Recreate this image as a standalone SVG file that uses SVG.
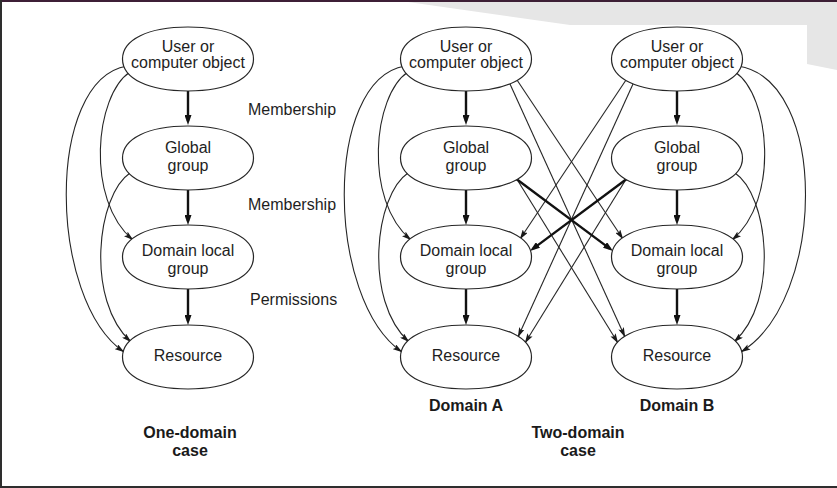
<svg xmlns="http://www.w3.org/2000/svg" xmlns:xlink="http://www.w3.org/1999/xlink" width="837" height="488" viewBox="0 0 837 488">
<style>
.nd{fill:#fff;stroke:#262626;stroke-width:1.2}
.t{font-family:"Liberation Sans",Arial,Helvetica,sans-serif;font-size:16px;fill:#1e1e1e;text-anchor:middle}
.l{font-family:"Liberation Sans",Arial,Helvetica,sans-serif;font-size:16px;fill:#1e1e1e}
.b{font-family:"Liberation Sans",Arial,Helvetica,sans-serif;font-size:16px;font-weight:bold;fill:#1a1a1a;text-anchor:middle}
.thin{fill:none;stroke:#262626;stroke-width:1.1;marker-end:url(#ah)}
.thick{fill:none;stroke:#111;stroke-width:2.4;marker-end:url(#ahb)}
</style>
<defs>
<marker id="ah" markerUnits="userSpaceOnUse" markerWidth="10" markerHeight="6" refX="9.5" refY="3" orient="auto"><path d="M0,0 L10,3 L0,6 L2,3 Z" fill="#1a1a1a"/></marker>
<marker id="ahb" markerUnits="userSpaceOnUse" markerWidth="10" markerHeight="7" refX="6" refY="3.5" orient="auto"><path d="M0,0 L10,3.5 L0,7 Z" fill="#111"/></marker>
<path id="ov" d="M-65.5,0 C-65.5,-19.5 -39.8,-32 0,-32 C39.8,-32 65.5,-19.5 65.5,0 C65.5,19.5 39.8,32 0,32 C-39.8,32 -65.5,19.5 -65.5,0 Z"/>
</defs>
<rect x="0" y="0" width="837" height="488" fill="#fff"/>
<polygon points="408,2 837,2 837,70 807,64 807,25 570,25" fill="#e6e6e6"/>
<rect x="0" y="0" width="837" height="2" fill="#3d1f36"/>
<rect x="0" y="0" width="2" height="488" fill="#2e2e2e"/>
<rect x="0" y="486" width="837" height="2" fill="#2e2e2e"/>

<g id="connectors">
<path class="thick" d="M188,91 L188,121"/>
<path class="thick" d="M188,190 L188,221"/>
<path class="thick" d="M188,289 L188,321"/>
<path class="thick" d="M466,91 L466,121"/>
<path class="thick" d="M466,190 L466,221"/>
<path class="thick" d="M466,289 L466,321"/>
<path class="thick" d="M677,91 L677,121"/>
<path class="thick" d="M677,190 L677,221"/>
<path class="thick" d="M677,289 L677,321"/>
<path class="thin" d="M127,66 C45,80 48,300 124,352"/>
<path class="thin" d="M130,72 C95,95 85,200 133,240"/>
<path class="thin" d="M130,173 C97,195 85,300 131,342"/>
<path class="thin" d="M405,66 C323,80 326,300 402,352"/>
<path class="thin" d="M408,72 C373,95 363,200 411,240"/>
<path class="thin" d="M408,173 C375,195 363,300 409,342"/>
<path class="thin" d="M738,66 C829,80 826,300 741,352"/>
<path class="thin" d="M735,72 C770,95 780,200 732,240"/>
<path class="thin" d="M735,173 C768,195 780,300 734,342"/>
<path class="thin" d="M517,80 L623,239"/>
<path class="thin" d="M510,84 L625,337"/>
<path class="thin" d="M518,181 L618,343"/>
<path class="thin" d="M626,80 L520,239"/>
<path class="thin" d="M633,84 L518,337"/>
<path class="thin" d="M625,181 L525,343"/>
<path class="thick" d="M515,178 L609.8,248.6"/>
<path class="thick" d="M628,178 L533.2,248.6"/>
</g>

<g id="one-user"><use xlink:href="#ov" href="#ov" class="nd" x="188" y="59"/><text class="t" x="188" y="52">User or</text><text class="t" x="188" y="68">computer object</text></g>
<g id="one-global"><use xlink:href="#ov" href="#ov" class="nd" x="188" y="158"/><text class="t" x="188" y="153">Global</text><text class="t" x="188" y="171">group</text></g>
<g id="one-dl"><use xlink:href="#ov" href="#ov" class="nd" x="188" y="257"/><text class="t" x="188" y="256">Domain local</text><text class="t" x="188" y="274">group</text></g>
<g id="one-res"><use xlink:href="#ov" href="#ov" class="nd" x="188" y="357"/><text class="t" x="188" y="361">Resource</text></g>

<g id="a-user"><use xlink:href="#ov" href="#ov" class="nd" x="466" y="59"/><text class="t" x="466" y="52">User or</text><text class="t" x="466" y="68">computer object</text></g>
<g id="a-global"><use xlink:href="#ov" href="#ov" class="nd" x="466" y="158"/><text class="t" x="466" y="153">Global</text><text class="t" x="466" y="171">group</text></g>
<g id="a-dl"><use xlink:href="#ov" href="#ov" class="nd" x="466" y="257"/><text class="t" x="466" y="256">Domain local</text><text class="t" x="466" y="274">group</text></g>
<g id="a-res"><use xlink:href="#ov" href="#ov" class="nd" x="466" y="357"/><text class="t" x="466" y="361">Resource</text></g>

<g id="b-user"><use xlink:href="#ov" href="#ov" class="nd" x="677" y="59"/><text class="t" x="677" y="52">User or</text><text class="t" x="677" y="68">computer object</text></g>
<g id="b-global"><use xlink:href="#ov" href="#ov" class="nd" x="677" y="158"/><text class="t" x="677" y="153">Global</text><text class="t" x="677" y="171">group</text></g>
<g id="b-dl"><use xlink:href="#ov" href="#ov" class="nd" x="677" y="257"/><text class="t" x="677" y="256">Domain local</text><text class="t" x="677" y="274">group</text></g>
<g id="b-res"><use xlink:href="#ov" href="#ov" class="nd" x="677" y="357"/><text class="t" x="677" y="361">Resource</text></g>

<g id="labels">
<text class="l" x="248" y="115">Membership</text>
<text class="l" x="248" y="210">Membership</text>
<text class="l" x="250" y="305">Permissions</text>
<text class="b" x="466" y="411">Domain A</text>
<text class="b" x="677" y="411">Domain B</text>
<text class="b" x="190" y="438">One-domain</text>
<text class="b" x="190" y="456">case</text>
<text class="b" x="578" y="438">Two-domain</text>
<text class="b" x="578" y="456">case</text>
</g>
</svg>
